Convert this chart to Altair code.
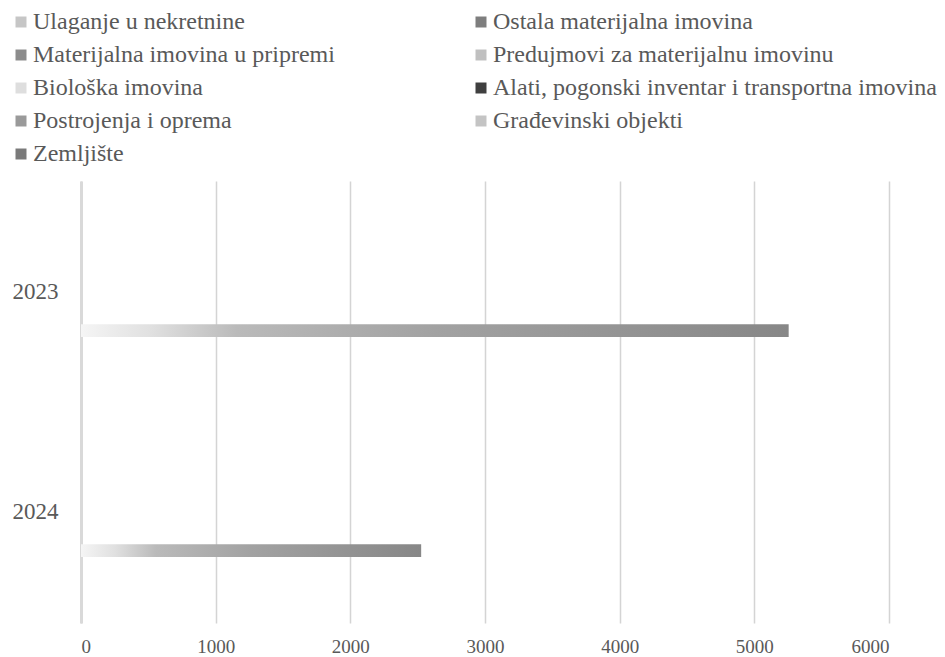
import altair as alt
import pandas as pd

years = ["2023", "2024"]
series = [
    "Ulaganje u nekretnine",
    "Ostala materijalna imovina",
    "Materijalna imovina u pripremi",
    "Predujmovi za materijalnu imovinu",
    "Biološka imovina",
    "Alati, pogonski inventar i transportna imovina",
    "Postrojenja i oprema",
    "Građevinski objekti",
    "Zemljište",
]
values_2023 = [0, 0, 0, 0, 0, 0, 0, 5255, 0]
values_2024 = [0, 0, 0, 0, 0, 0, 0, 2526, 0]
legend_colors = ["#c6c6c6", "#7e7e7e", "#8c8c8c", "#c0c0c0", "#dedede",
                 "#3f3f3f", "#9a9a9a", "#c4c4c4", "#7a7a7a"]
x_ticks = [0, 1000, 2000, 3000, 4000, 5000, 6000]

# legend is laid out column by column: reorder so it reads row by row
legend_order = [series[i] for i in (0, 2, 4, 6, 8, 1, 3, 5, 7)]
legend_range = [legend_colors[series.index(s)] for s in legend_order]

rows = []
for s, v in zip(series, values_2023):
    rows.append({"year": "2023", "series": s, "value": v})
for s, v in zip(series, values_2024):
    rows.append({"year": "2024", "series": s, "value": v})
df = pd.DataFrame(rows)

FONT = "Liberation Serif"
TXT = "#595959"

x_enc = alt.X("value:Q",
              scale=alt.Scale(domain=[0, 6000], nice=False),
              axis=alt.Axis(values=x_ticks, format="d", title=None, domain=False, ticks=False,
                            grid=True, gridColor="#d4d4d4", gridWidth=1.5,
                            labelFont=FONT, labelFontSize=19, labelColor=TXT,
                            labelPadding=14))
y_enc = alt.Y("year:N",
              scale=alt.Scale(domain=years, paddingInner=0.4727, paddingOuter=0.241),
              axis=alt.Axis(title=None, domain=True, domainColor="#d9d9d9", domainWidth=3,
                            ticks=False, grid=False, labelFont=FONT, labelFontSize=23,
                            labelColor=TXT, labelPadding=23))
yoff_enc = alt.YOffset("series:N",
                       scale=alt.Scale(domain=series, paddingInner=0, paddingOuter=0))

legend_layer = alt.Chart(df).mark_bar(opacity=0).encode(
    x=x_enc, y=y_enc, yOffset=yoff_enc,
    color=alt.Color("series:N",
                    scale=alt.Scale(domain=legend_order, range=legend_range),
                    legend=alt.Legend(title=None, orient="none", legendX=-72, legendY=-171,
                                      columns=2, columnPadding=134, rowPadding=9,
                                      symbolType="square", symbolSize=121,
                                      symbolOpacity=1, symbolStrokeWidth=0,
                                      labelFont=FONT, labelFontSize=24, labelColor=TXT,
                                      labelOffset=0, labelLimit=600)),
)

gradient = alt.LinearGradient(
    gradient="linear",
    stops=[
        alt.GradientStop(color="#f5f5f5", offset=0),
        alt.GradientStop(color="#e0e0e0", offset=0.1),
        alt.GradientStop(color="#bababa", offset=0.22),
        alt.GradientStop(color="#a2a2a2", offset=0.5),
        alt.GradientStop(color="#878787", offset=1),
    ],
    x1=0, x2=1, y1=0, y2=0,
)

bar_layer = alt.Chart(df).mark_bar(color=gradient).encode(
    x=x_enc, y=y_enc, yOffset=yoff_enc,
)

chart = alt.layer(legend_layer, bar_layer).properties(
    width=808, height=442,
    padding={"left": 1, "top": 2, "right": 0, "bottom": 0},
).configure_view(stroke=None)

chart.save("out.html", embed_options={"renderer": "svg", "actions": False})
